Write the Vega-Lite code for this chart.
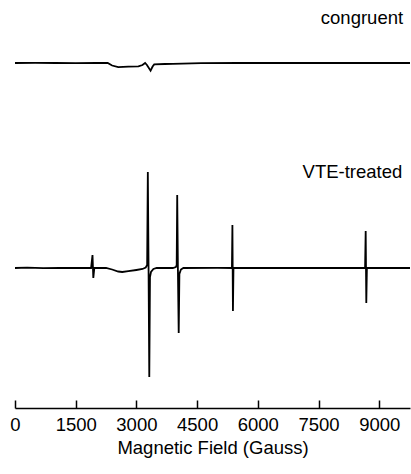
{
  "$schema": "https://vega.github.io/schema/vega-lite/v6.json",
  "width": 395,
  "height": 408,
  "autosize": {"type": "none"},
  "padding": {"left": 15, "top": 0, "right": 1, "bottom": 66},
  "config": {"view": {"stroke": null}, "font": "Liberation Sans"},
  "datasets": {
    "spectra": [
      {"sample": "congruent", "field": 0, "signal": 345},
      {"sample": "congruent", "field": 500, "signal": 345.2},
      {"sample": "congruent", "field": 1000, "signal": 345},
      {"sample": "congruent", "field": 1500, "signal": 344.9},
      {"sample": "congruent", "field": 2000, "signal": 345},
      {"sample": "congruent", "field": 2290, "signal": 345},
      {"sample": "congruent", "field": 2400, "signal": 342.5},
      {"sample": "congruent", "field": 2550, "signal": 340.8},
      {"sample": "congruent", "field": 2800, "signal": 341.3},
      {"sample": "congruent", "field": 3050, "signal": 341.6},
      {"sample": "congruent", "field": 3150, "signal": 343},
      {"sample": "congruent", "field": 3215, "signal": 345},
      {"sample": "congruent", "field": 3260, "signal": 343},
      {"sample": "congruent", "field": 3350, "signal": 337.3},
      {"sample": "congruent", "field": 3400, "signal": 341.5},
      {"sample": "congruent", "field": 3440, "signal": 343.6},
      {"sample": "congruent", "field": 3700, "signal": 344},
      {"sample": "congruent", "field": 3900, "signal": 344.2},
      {"sample": "congruent", "field": 4600, "signal": 344.8},
      {"sample": "congruent", "field": 5500, "signal": 345},
      {"sample": "congruent", "field": 7000, "signal": 345},
      {"sample": "congruent", "field": 9760, "signal": 345},
      {"sample": "VTE-treated", "field": 0, "signal": 140},
      {"sample": "VTE-treated", "field": 300, "signal": 140.3},
      {"sample": "VTE-treated", "field": 700, "signal": 139.8},
      {"sample": "VTE-treated", "field": 1100, "signal": 140.2},
      {"sample": "VTE-treated", "field": 1500, "signal": 140},
      {"sample": "VTE-treated", "field": 1880, "signal": 140},
      {"sample": "VTE-treated", "field": 1915, "signal": 153},
      {"sample": "VTE-treated", "field": 1935, "signal": 130},
      {"sample": "VTE-treated", "field": 1960, "signal": 140},
      {"sample": "VTE-treated", "field": 2250, "signal": 140},
      {"sample": "VTE-treated", "field": 2400, "signal": 138.5},
      {"sample": "VTE-treated", "field": 2550, "signal": 136.5},
      {"sample": "VTE-treated", "field": 2650, "signal": 136},
      {"sample": "VTE-treated", "field": 2800, "signal": 136.8},
      {"sample": "VTE-treated", "field": 3000, "signal": 138},
      {"sample": "VTE-treated", "field": 3150, "signal": 139},
      {"sample": "VTE-treated", "field": 3230, "signal": 140.5},
      {"sample": "VTE-treated", "field": 3265, "signal": 143},
      {"sample": "VTE-treated", "field": 3282, "signal": 236},
      {"sample": "VTE-treated", "field": 3300, "signal": 140},
      {"sample": "VTE-treated", "field": 3318, "signal": 31},
      {"sample": "VTE-treated", "field": 3335, "signal": 131},
      {"sample": "VTE-treated", "field": 3360, "signal": 136},
      {"sample": "VTE-treated", "field": 3420, "signal": 139},
      {"sample": "VTE-treated", "field": 3500, "signal": 140},
      {"sample": "VTE-treated", "field": 3900, "signal": 140},
      {"sample": "VTE-treated", "field": 3975, "signal": 141},
      {"sample": "VTE-treated", "field": 3995, "signal": 143},
      {"sample": "VTE-treated", "field": 4008, "signal": 213},
      {"sample": "VTE-treated", "field": 4025, "signal": 140},
      {"sample": "VTE-treated", "field": 4045, "signal": 75},
      {"sample": "VTE-treated", "field": 4062, "signal": 134},
      {"sample": "VTE-treated", "field": 4100, "signal": 138.5},
      {"sample": "VTE-treated", "field": 4160, "signal": 140},
      {"sample": "VTE-treated", "field": 5000, "signal": 140.2},
      {"sample": "VTE-treated", "field": 5360, "signal": 140},
      {"sample": "VTE-treated", "field": 5372, "signal": 183},
      {"sample": "VTE-treated", "field": 5385, "signal": 97},
      {"sample": "VTE-treated", "field": 5398, "signal": 140},
      {"sample": "VTE-treated", "field": 6500, "signal": 140},
      {"sample": "VTE-treated", "field": 8650, "signal": 140},
      {"sample": "VTE-treated", "field": 8665, "signal": 177},
      {"sample": "VTE-treated", "field": 8680, "signal": 105},
      {"sample": "VTE-treated", "field": 8695, "signal": 140},
      {"sample": "VTE-treated", "field": 9760, "signal": 140}
    ],
    "labels": [
      {"sample": "congruent", "field": 9590, "signal": 384},
      {"sample": "VTE-treated", "field": 9570, "signal": 230}
    ]
  },
  "layer": [
    {
      "data": {"name": "spectra"},
      "mark": {"type": "line", "color": "black", "strokeWidth": 1.8, "interpolate": "linear"},
      "encoding": {
        "x": {
          "field": "field",
          "type": "quantitative",
          "scale": {"domain": [0, 9760], "nice": false, "zero": false},
          "axis": {
            "title": "Magnetic Field (Gauss)",
            "values": [0, 750, 1500, 2250, 3000, 3750, 4500, 5250, 6000, 6750, 7500, 8250, 9000, 9750],
            "format": "d",
            "labelExpr": "datum.value % 1500 === 0 ? datum.label : ''",
            "tickSize": {"condition": {"test": "datum.value % 1500 === 0", "value": -8}, "value": -4},
            "grid": false,
            "domainColor": "black",
            "domainWidth": 1.5,
            "tickColor": "black",
            "tickWidth": 1.5,
            "labelFont": "Liberation Sans",
            "labelFontSize": 18.5,
            "labelColor": "black",
            "labelPadding": 15,
            "labelFlush": false,
            "labelOverlap": false,
            "titleFont": "Liberation Sans",
            "titleFontSize": 18.5,
            "titleFontWeight": "normal",
            "titleColor": "black",
            "titlePadding": 5
          }
        },
        "y": {
          "field": "signal",
          "type": "quantitative",
          "scale": {"domain": [0, 408], "nice": false, "zero": false},
          "axis": null
        },
        "detail": {"field": "sample", "type": "nominal"}
      }
    },
    {
      "data": {"name": "labels"},
      "mark": {"type": "text", "align": "right", "baseline": "alphabetic", "fontSize": 18.5, "font": "Liberation Sans", "color": "black"},
      "encoding": {
        "x": {"field": "field", "type": "quantitative"},
        "y": {"field": "signal", "type": "quantitative"},
        "text": {"field": "sample", "type": "nominal"}
      }
    }
  ]
}
